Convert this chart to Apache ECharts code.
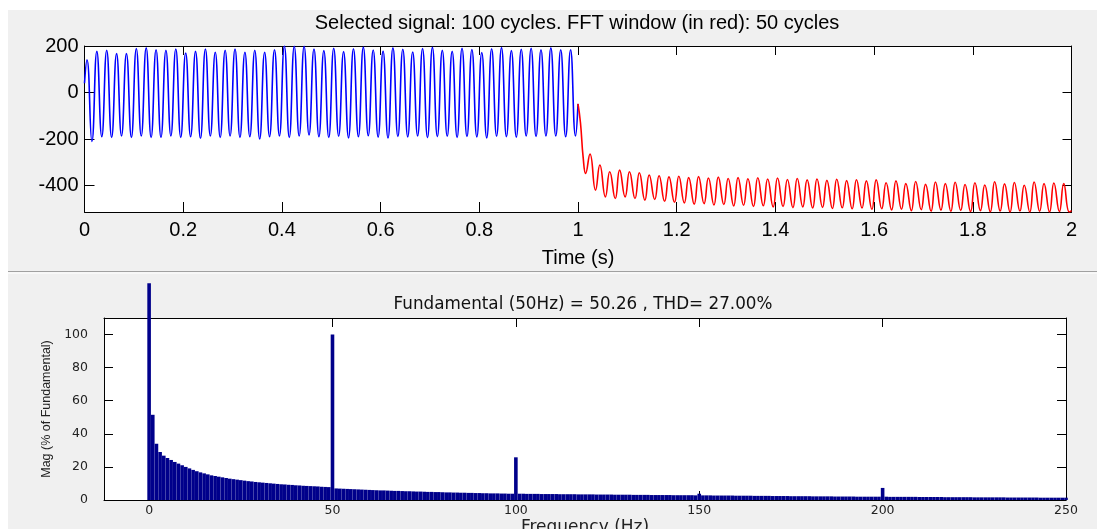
<!DOCTYPE html>
<html><head><meta charset="utf-8">
<script src="https://cdn.jsdelivr.net/npm/echarts@6/dist/echarts.min.js"></script>
<style>
html,body{margin:0;padding:0;background:#fff;}
#bg{position:absolute;left:8px;top:10px;width:1089px;height:519px;background:#f0f0f0;}
#chart{position:absolute;left:0;top:0;width:1097px;height:529px;}
</style></head><body>
<div id="bg"></div><div id="chart"></div>
<script>
// ---------- Top panel: selected signal (time domain) ----------
const cyclePeriod = 0.02;            // 50 Hz -> 0.02 s per cycle
const blueStart = [0, 40];
const bluePeakTime0 = 0.005, blueTroughTime0 = 0.015;
const bluePeaks = [141, 177, 182, 167, 167, 189, 192, 184, 182, 187, 170, 177, 187, 173, 182, 187, 173, 182, 173, 184,
  200, 199, 199, 187, 180, 190, 176, 188, 195, 183, 178, 192, 186, 174, 189, 194, 181, 177, 190, 185,
  172, 188, 193, 180, 186, 190, 184, 192, 184, 184];
const blueTroughs = [-211, -190, -193, -187, -193, -187, -193, -193, -187, -193, -190, -197, -187, -193, -187, -193, -190, -200, -190, -187,
  -193, -187, -183, -190, -193, -188, -195, -190, -186, -192, -196, -189, -191, -187, -194, -190, -188, -193, -189, -191,
  -195, -188, -190, -192, -187, -189, -187, -187, -190, -187];
const switchPoint = [1.0, -49];
const redLead = [[1.005, -130], [1.0105, -280]];
const redTroughTime0 = 1.0155, redPeakTime0 = 1.0243;
const redTroughs = [-348, -420, -449, -456, -449, -456, -463, -460, -468, -472,
  -475, -480, -478, -484, -482, -488, -485, -490, -487, -492,
  -490, -495, -492, -497, -494, -499, -496, -500, -497, -502,
  -500, -505, -502, -508, -504, -510, -506, -511, -507, -512,
  -508, -513, -510, -514, -510, -514, -511, -514, -512, -514];
const redPeaks = [-265, -312, -341, -334, -341, -345, -355, -358, -363,
  -360, -366, -362, -368, -364, -370, -366, -371, -367, -372,
  -368, -374, -370, -376, -372, -378, -373, -379, -375, -380,
  -376, -388, -380, -392, -383, -395, -385, -392, -386, -396,
  -388, -398, -384, -393, -387, -399, -385, -392, -389, -392];
const redEnd = [2.0, -508];
const timeTicks = [0, 2, 0.2];
const signalTicks = [-400, -200, 0, 200];

// ---------- Bottom panel: FFT spectrum (1 Hz bins, 0..250 Hz) ----------
const fftFreqStep = 1;
const fftMag = [131,
  51.5, 34, 29, 26.8, 25.4, 24.2, 23, 22, 21, 20,
  19.1, 18.2, 17.4, 16.7, 16.1, 15.5, 14.9, 14.5, 14.1, 13.7,
  13.3, 12.9, 12.6, 12.3, 12.0, 11.7, 11.4, 11.2, 10.9, 10.7,
  10.5, 10.3, 10.1, 9.9, 9.7, 9.5, 9.4, 9.2, 9.1, 8.9,
  8.8, 8.6, 8.5, 8.4, 8.3, 8.2, 8.0, 7.9, 7.8, 100,
  7.0, 6.9, 6.8, 6.7, 6.6, 6.5, 6.4, 6.3, 6.2, 6.1,
  6.0, 5.9, 5.8, 5.8, 5.7, 5.6, 5.5, 5.5, 5.4, 5.3,
  5.3, 5.2, 5.1, 5.1, 5.0, 4.9, 4.9, 4.8, 4.8, 4.7,
  4.6, 4.6, 4.5, 4.5, 4.4, 4.4, 4.3, 4.3, 4.2, 4.2,
  4.1, 4.1, 4.0, 4.0, 4.0, 3.9, 3.9, 3.8, 3.8, 25.8,
  3.8, 3.8, 3.7, 3.7, 3.7, 3.7, 3.6, 3.6, 3.6, 3.6,
  3.6, 3.5, 3.5, 3.5, 3.5, 3.5, 3.4, 3.4, 3.4, 3.4,
  3.4, 3.3, 3.3, 3.3, 3.3, 3.3, 3.2, 3.2, 3.2, 3.2,
  3.2, 3.1, 3.1, 3.1, 3.1, 3.1, 3.0, 3.0, 3.0, 3.0,
  3.0, 3.0, 2.9, 2.9, 2.9, 2.9, 2.9, 2.9, 2.8, 3.8,
  2.8, 2.8, 2.8, 2.7, 2.7, 2.7, 2.7, 2.7, 2.7, 2.6,
  2.6, 2.6, 2.6, 2.6, 2.5, 2.5, 2.5, 2.5, 2.5, 2.4,
  2.4, 2.4, 2.4, 2.4, 2.3, 2.3, 2.3, 2.3, 2.3, 2.3,
  2.2, 2.2, 2.2, 2.2, 2.2, 2.2, 2.1, 2.1, 2.1, 2.1,
  2.1, 2.1, 2.0, 2.0, 2.0, 2.0, 2.0, 2.0, 2.0, 7.3,
  2.0, 1.9, 1.9, 1.9, 1.9, 1.9, 1.9, 1.9, 1.9, 1.8,
  1.8, 1.8, 1.8, 1.8, 1.8, 1.8, 1.7, 1.7, 1.7, 1.7,
  1.7, 1.7, 1.7, 1.7, 1.6, 1.6, 1.6, 1.6, 1.6, 1.6,
  1.6, 1.6, 1.6, 1.5, 1.5, 1.5, 1.5, 1.5, 1.5, 1.5,
  1.5, 1.5, 1.4, 1.4, 1.4, 1.4, 1.4, 1.4, 1.4, 1.4];
const freqTicks = [0, 50, 100, 150, 200, 250];
const magTicks = [0, 20, 40, 60, 80, 100];

const topTitle = 'Selected signal: 100 cycles. FFT window (in red): 50 cycles';
const bottomTitle = 'Fundamental (50Hz) = 50.26 , THD= 27.00%';

// ---------- build series data ----------
const blueData = [blueStart];
bluePeaks.forEach((p, k) => {
  blueData.push([bluePeakTime0 + k * cyclePeriod, p]);
  blueData.push([blueTroughTime0 + k * cyclePeriod, blueTroughs[k]]);
});
blueData.push(switchPoint);
const redData = [switchPoint].concat(redLead);
redTroughs.forEach((v, k) => {
  redData.push([redTroughTime0 + k * cyclePeriod, v]);
  if (k < redPeaks.length) redData.push([redPeakTime0 + k * cyclePeriod, redPeaks[k]]);
});
redData.push(redEnd);
const fftData = fftMag.map((v, i) => [i * fftFreqStep, v]);

const AR = 'Liberation Sans';
const DV = 'DejaVu Sans';
const black = '#000';

function mirrorX(grid, min, max, ticks) {
  return {gridIndex: grid, type: 'value', position: 'top', min, max,
    axisLine: {show: true, onZero: false, lineStyle: {color: black, width: 1}},
    axisTick: {show: true, inside: true, length: 9, customValues: ticks, lineStyle: {color: black}},
    axisLabel: {show: false}, splitLine: {show: false}};
}
function mirrorY(grid, min, max, ticks) {
  return {gridIndex: grid, type: 'value', position: 'right', min, max,
    axisLine: {show: true, onZero: false, lineStyle: {color: black, width: 1}},
    axisTick: {show: true, inside: true, length: 9, customValues: ticks, lineStyle: {color: black}},
    axisLabel: {show: false}, splitLine: {show: false}};
}
const timeTickVals = [];
for (let i = 0; i <= 10; i++) timeTickVals.push(+(i * timeTicks[2]).toFixed(1));

const chart = echarts.init(document.getElementById('chart'), null, {renderer: 'canvas'});
chart.setOption({
  animation: false,
  backgroundColor: 'transparent',
  title: [
    {text: topTitle, left: 577, top: 13, textAlign: 'center', padding: 0,
     textStyle: {fontFamily: AR, fontSize: 20, fontWeight: 'normal', color: black}},
    {text: bottomTitle, left: 583, top: 296, textAlign: 'center', padding: 0,
     textStyle: {fontFamily: DV, fontSize: 16.8, fontWeight: 'normal', color: '#111'}}
  ],
  graphic: [
    {type: 'line', shape: {x1: 8, y1: 271.5, x2: 1097, y2: 271.5}, style: {stroke: '#a0a0a0', lineWidth: 1.2}, z: 100},
    {type: 'line', shape: {x1: 8, y1: 273, x2: 1097, y2: 273}, style: {stroke: '#ffffff', lineWidth: 1}, z: 100}
  ],
  grid: [
    {left: 84.5, top: 46, width: 987, height: 166, show: true, backgroundColor: '#fff', borderWidth: 0,
     outerBoundsMode: 'none', containLabel: false},
    {left: 104, top: 318, width: 962, height: 182, show: true, backgroundColor: '#fff', borderWidth: 0,
     outerBoundsMode: 'none', containLabel: false}
  ],
  xAxis: [
    {gridIndex: 0, type: 'value', min: timeTicks[0], max: timeTicks[1],
     axisLine: {show: true, onZero: false, lineStyle: {color: black, width: 1}},
     axisTick: {show: true, inside: true, length: 10, customValues: timeTickVals, lineStyle: {color: black}},
     axisLabel: {fontFamily: AR, fontSize: 20, color: black, margin: 8, customValues: timeTickVals},
     splitLine: {show: false},
     name: 'Time (s)', nameLocation: 'middle', nameGap: 36,
     nameTextStyle: {fontFamily: AR, fontSize: 20, color: black}},
    mirrorX(0, timeTicks[0], timeTicks[1], timeTickVals),
    {gridIndex: 1, type: 'value', min: -12.3, max: 250,
     axisLine: {show: true, onZero: false, lineStyle: {color: black, width: 1}},
     axisTick: {show: true, inside: true, length: 9, customValues: freqTicks, lineStyle: {color: black}},
     axisLabel: {fontFamily: DV, fontSize: 12.5, color: '#222', margin: 4, customValues: freqTicks},
     splitLine: {show: false},
     name: 'Frequency (Hz)', nameLocation: 'middle', nameGap: 19,
     nameTextStyle: {fontFamily: DV, fontSize: 17, color: '#222'}},
    mirrorX(1, -12.3, 250, freqTicks)
  ],
  yAxis: [
    {gridIndex: 0, type: 'value', min: -514, max: 200,
     axisLine: {show: true, onZero: false, lineStyle: {color: black, width: 1}},
     axisTick: {show: true, inside: true, length: 10, customValues: signalTicks, lineStyle: {color: black}},
     axisLabel: {fontFamily: AR, fontSize: 20, color: black, margin: 6, customValues: signalTicks},
     splitLine: {show: false}},
    mirrorY(0, -514, 200, signalTicks),
    {gridIndex: 1, type: 'value', min: 0, max: 110,
     axisLine: {show: true, onZero: false, lineStyle: {color: black, width: 1}},
     axisTick: {show: true, inside: true, length: 9, customValues: magTicks, lineStyle: {color: black}},
     axisLabel: {fontFamily: DV, fontSize: 12.5, color: '#222', margin: 16, customValues: magTicks},
     splitLine: {show: false},
     name: 'Mag (% of Fundamental)', nameLocation: 'middle', nameGap: 51,
     nameTextStyle: {fontFamily: AR, fontSize: 12.5, color: '#222'}},
    mirrorY(1, 0, 110, magTicks)
  ],
  series: [
    {type: 'line', name: 'signal', xAxisIndex: 0, yAxisIndex: 0, data: blueData,
     showSymbol: false, smooth: 0.5, lineStyle: {color: '#0000ff', width: 1.6}, z: 3},
    {type: 'line', name: 'fft window', xAxisIndex: 0, yAxisIndex: 0, data: redData,
     showSymbol: false, smooth: 0.5, lineStyle: {color: '#ff0000', width: 1.6}, z: 4},
    {type: 'bar', name: 'spectrum', xAxisIndex: 2, yAxisIndex: 2, data: fftData,
     barWidth: 3.6, clip: false, itemStyle: {color: '#00008b'}, z: 3}
  ]
});
</script></body></html>
